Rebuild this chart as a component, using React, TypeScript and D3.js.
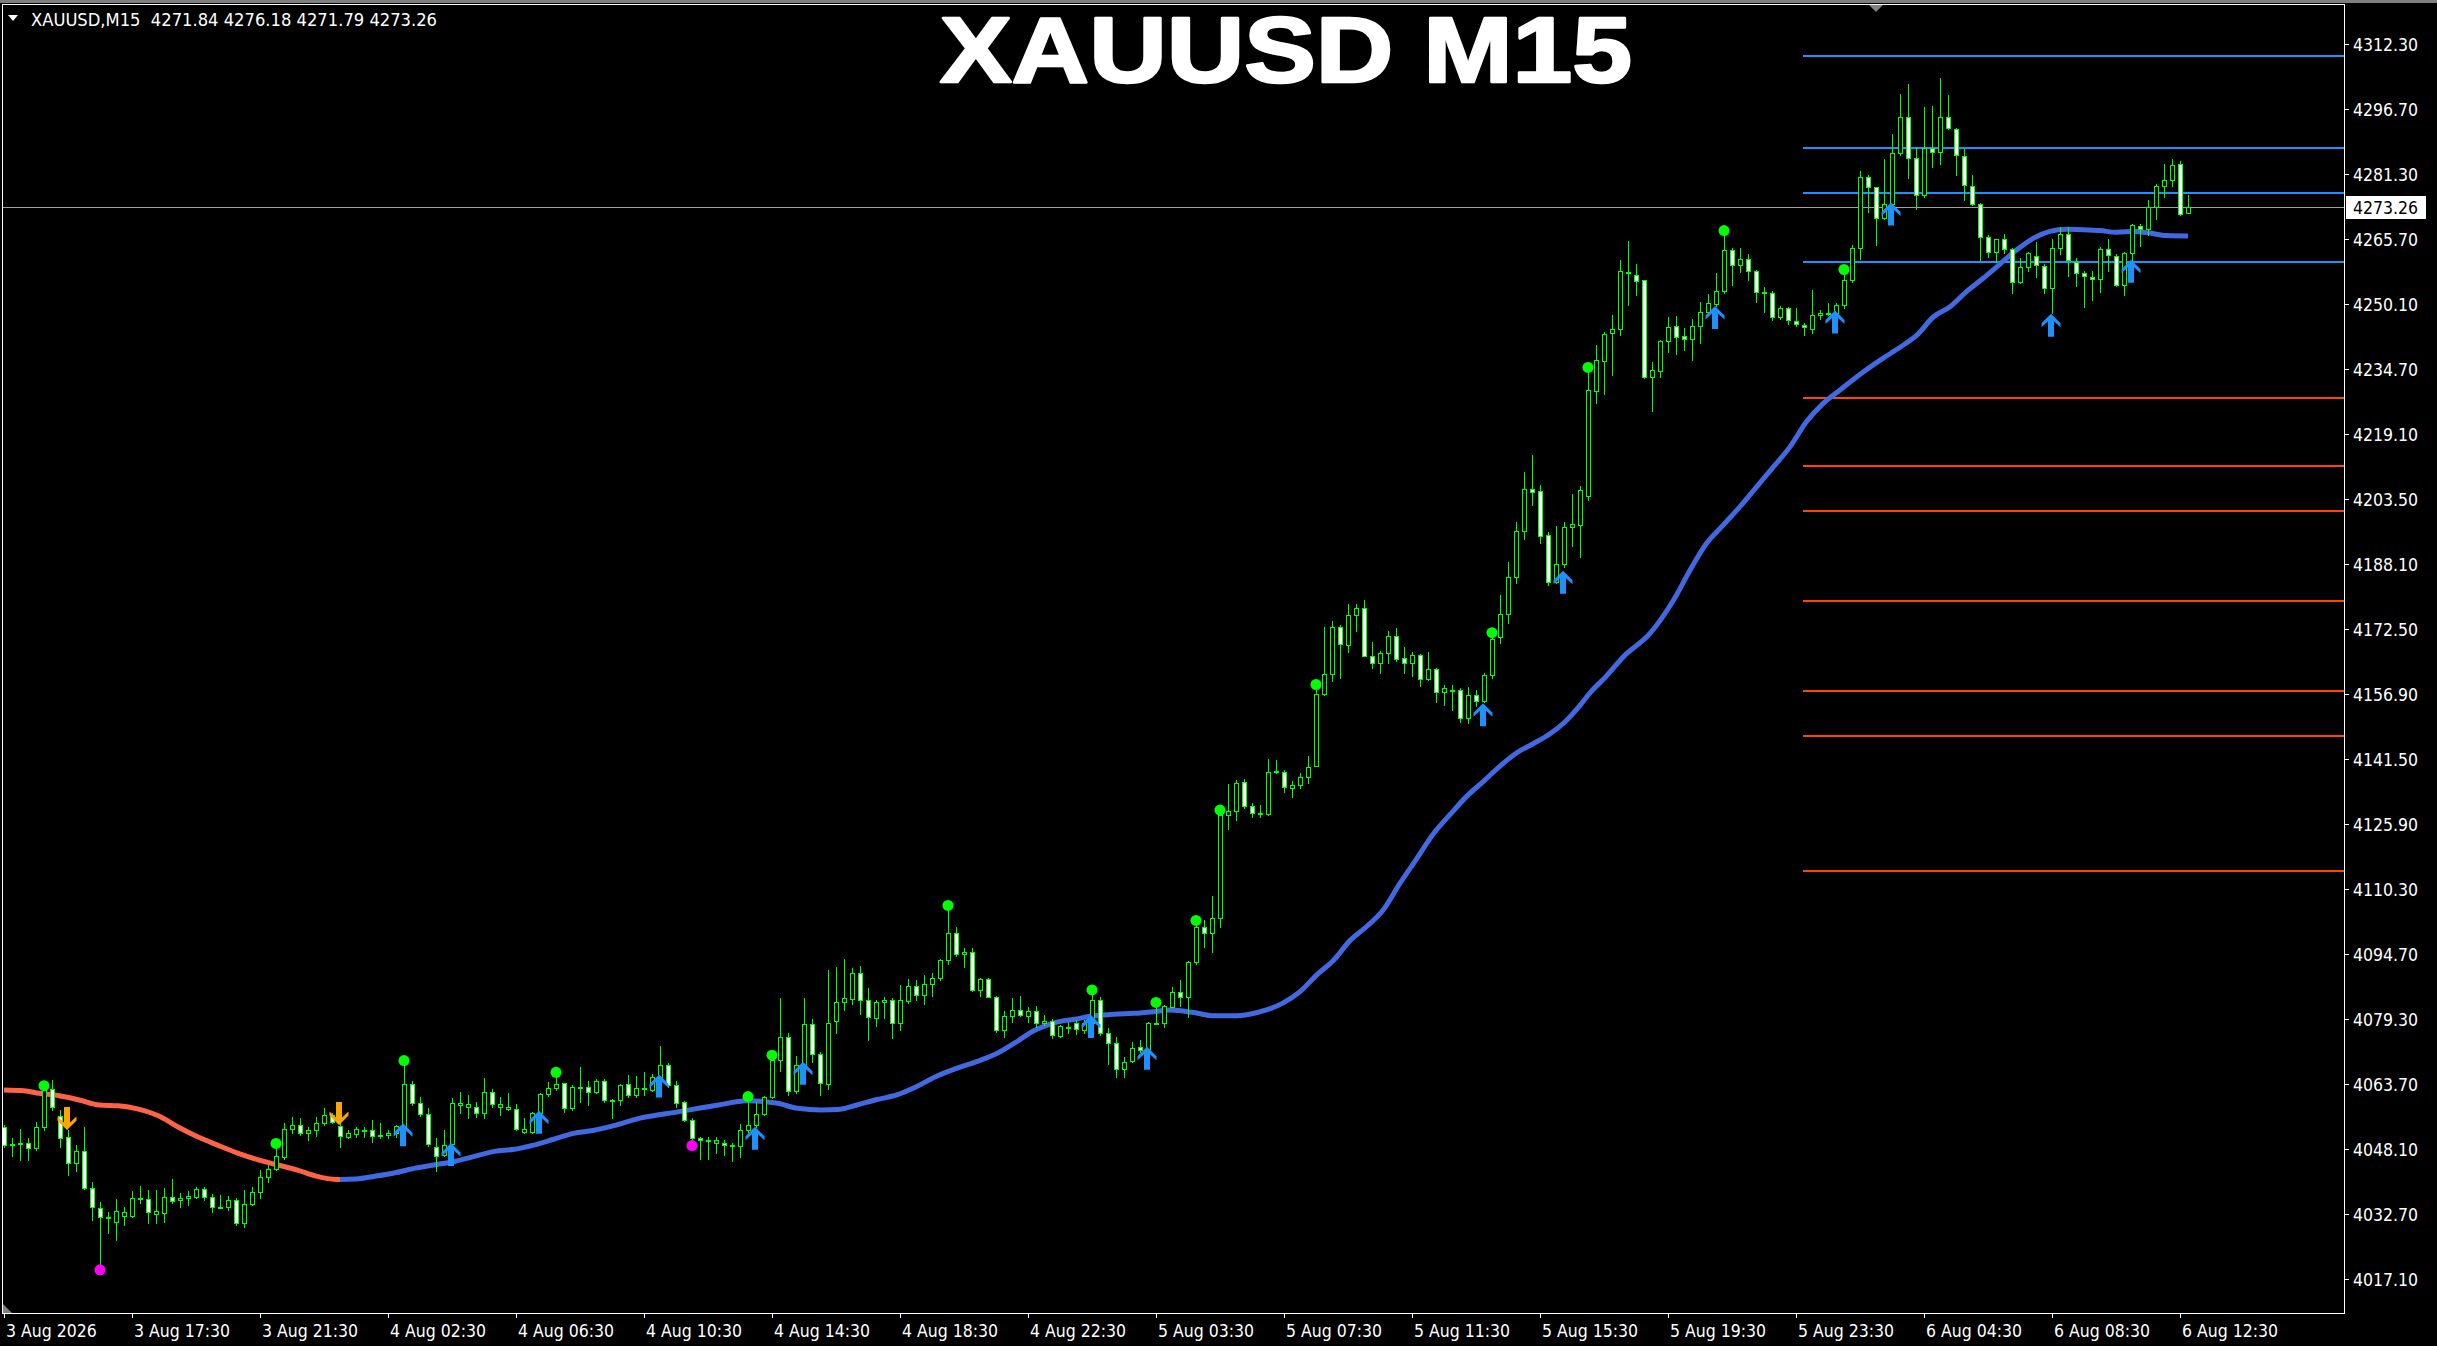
import React, { useEffect } from 'react';
import * as d3 from 'd3';

const WIDTH = 2437;
const HEIGHT = 1346;

// chart frame; price scale sits right of it, time scale below it
const FRAME = { left: 2, top: 4, right: 2344, bottom: 1313 };

const LIME = '#00ff00';
const AXIS_FONT = '"DejaVu Sans Condensed", "DejaVu Sans", sans-serif';

const chartTitle = 'XAUUSD M15';
const headerText = 'XAUUSD,M15  4271.84 4276.18 4271.79 4273.26';

const timeLabels = [
  '3 Aug 2026', '3 Aug 17:30', '3 Aug 21:30', '4 Aug 02:30', '4 Aug 06:30', '4 Aug 10:30',
  '4 Aug 14:30', '4 Aug 18:30', '4 Aug 22:30', '5 Aug 03:30', '5 Aug 07:30', '5 Aug 11:30',
  '5 Aug 15:30', '5 Aug 19:30', '5 Aug 23:30', '6 Aug 04:30', '6 Aug 08:30', '6 Aug 12:30',
];
const BARS_PER_LABEL = 16;

const priceTicks = [
  4312.3, 4296.7, 4281.3, 4265.7, 4250.1, 4234.7, 4219.1, 4203.5, 4188.1, 4172.5,
  4156.9, 4141.5, 4125.9, 4110.3, 4094.7, 4079.3, 4063.7, 4048.1, 4032.7, 4017.1,
];
const lastPrice = 4273.26;

// M15 bars, oldest first: [open, high, low, close]
const candles: [number, number, number, number][] = [
  [4053.5, 4054.0, 4048.7, 4049.1], [4049.3, 4050.7, 4046.4, 4049.3], [4049.3, 4052.9, 4045.6, 4049.7],
  [4049.7, 4050.7, 4045.6, 4048.4], [4048.4, 4054.7, 4048.0, 4053.5], [4053.5, 4063.0, 4052.7, 4062.3],
  [4062.5, 4064.7, 4057.5, 4058.2], [4056.1, 4057.5, 4048.7, 4050.7], [4051.0, 4052.7, 4042.0, 4044.8],
  [4044.8, 4049.1, 4042.8, 4047.6], [4047.8, 4053.4, 4038.6, 4038.8], [4038.8, 4040.4, 4031.2, 4034.2],
  [4034.0, 4035.6, 4020.2, 4031.9], [4032.0, 4033.0, 4028.0, 4032.0], [4030.8, 4036.2, 4026.4, 4033.4],
  [4032.2, 4034.4, 4030.0, 4033.0], [4032.2, 4038.2, 4032.0, 4036.4], [4036.4, 4039.3, 4035.2, 4036.2],
  [4036.2, 4038.4, 4030.4, 4033.2], [4032.6, 4038.4, 4030.6, 4033.4], [4032.8, 4038.8, 4030.8, 4036.6],
  [4036.8, 4040.9, 4035.2, 4035.8], [4036.0, 4037.6, 4034.4, 4036.4], [4036.4, 4038.2, 4034.8, 4037.0],
  [4036.8, 4039.2, 4036.4, 4038.6], [4038.6, 4039.2, 4036.0, 4036.8], [4036.8, 4037.4, 4033.2, 4034.2],
  [4034.2, 4037.2, 4034.0, 4034.2], [4034.4, 4037.0, 4033.6, 4036.0], [4036.0, 4036.4, 4030.0, 4030.4],
  [4030.6, 4038.4, 4029.6, 4035.0], [4035.0, 4039.2, 4034.8, 4038.0], [4037.8, 4043.2, 4036.4, 4041.4],
  [4041.4, 4044.4, 4040.4, 4043.3], [4043.3, 4048.4, 4043.2, 4046.4], [4046.2, 4054.3, 4045.9, 4052.9],
  [4052.9, 4055.9, 4051.9, 4053.9], [4053.9, 4055.5, 4051.5, 4051.9], [4051.9, 4053.4, 4050.3, 4052.7],
  [4052.6, 4055.8, 4051.3, 4054.3], [4054.3, 4057.9, 4053.9, 4056.3], [4056.3, 4056.7, 4054.3, 4054.7],
  [4053.7, 4054.7, 4048.7, 4051.4], [4051.1, 4052.7, 4050.7, 4051.9], [4051.8, 4053.5, 4051.1, 4052.9],
  [4052.7, 4053.5, 4051.1, 4052.7], [4052.6, 4055.1, 4049.9, 4051.4], [4051.6, 4054.5, 4050.7, 4051.6],
  [4051.5, 4052.7, 4050.7, 4052.1], [4051.9, 4053.9, 4051.1, 4053.7], [4053.7, 4068.3, 4053.5, 4063.6],
  [4063.6, 4064.5, 4058.7, 4059.1], [4059.1, 4060.7, 4056.0, 4056.5], [4056.5, 4057.9, 4048.9, 4049.3],
  [4048.7, 4050.7, 4042.8, 4046.6], [4046.8, 4052.7, 4046.4, 4049.1], [4049.4, 4060.3, 4049.1, 4059.1],
  [4058.6, 4061.9, 4056.7, 4059.1], [4058.2, 4061.1, 4055.7, 4058.9], [4058.2, 4059.5, 4055.8, 4056.7],
  [4056.7, 4065.1, 4055.5, 4061.7], [4061.7, 4062.5, 4058.3, 4058.9], [4058.2, 4060.7, 4056.3, 4058.9],
  [4057.7, 4061.5, 4057.5, 4058.3], [4057.8, 4058.9, 4052.7, 4052.9], [4052.3, 4055.5, 4052.1, 4052.9],
  [4052.3, 4057.1, 4052.1, 4056.7], [4056.7, 4061.5, 4056.6, 4061.3], [4061.3, 4064.3, 4060.9, 4062.7],
  [4062.7, 4065.5, 4062.3, 4063.6], [4063.9, 4064.0, 4057.1, 4057.9], [4057.9, 4063.5, 4057.5, 4063.1],
  [4063.1, 4067.7, 4059.3, 4063.1], [4062.9, 4064.5, 4058.7, 4061.9], [4061.9, 4064.8, 4061.5, 4064.4],
  [4064.4, 4064.8, 4059.5, 4059.9], [4059.9, 4060.1, 4055.6, 4060.0], [4060.0, 4063.7, 4058.7, 4063.4],
  [4063.6, 4065.8, 4060.7, 4061.0], [4061.0, 4065.6, 4060.7, 4062.8], [4062.8, 4066.6, 4061.1, 4062.8],
  [4062.3, 4066.1, 4062.0, 4065.5], [4065.5, 4072.8, 4065.3, 4068.2], [4068.2, 4068.8, 4063.1, 4063.5],
  [4063.4, 4064.4, 4058.3, 4059.2], [4059.3, 4059.7, 4054.8, 4055.1], [4055.1, 4055.6, 4050.3, 4050.8],
  [4050.8, 4051.1, 4045.9, 4050.3], [4050.3, 4051.1, 4045.9, 4050.3], [4049.7, 4051.1, 4047.3, 4050.3],
  [4049.7, 4050.3, 4046.7, 4049.1], [4049.1, 4049.5, 4045.4, 4049.1], [4049.0, 4054.1, 4046.3, 4052.6],
  [4052.6, 4059.5, 4052.3, 4053.8], [4053.8, 4059.5, 4053.5, 4056.5], [4056.5, 4060.9, 4056.3, 4060.7],
  [4060.7, 4069.9, 4060.3, 4069.4], [4069.4, 4084.2, 4066.9, 4074.9], [4074.9, 4075.8, 4061.1, 4062.0],
  [4062.0, 4070.4, 4061.5, 4068.2], [4068.2, 4084.2, 4068.0, 4078.0], [4078.0, 4079.2, 4069.0, 4070.8],
  [4071.0, 4071.4, 4061.1, 4063.9], [4063.6, 4091.0, 4062.4, 4078.4], [4078.8, 4091.6, 4076.0, 4083.4],
  [4083.2, 4093.7, 4081.4, 4084.2], [4084.0, 4091.4, 4082.8, 4090.2], [4090.2, 4091.9, 4080.4, 4083.9],
  [4083.9, 4086.6, 4074.2, 4079.8], [4079.6, 4083.9, 4077.6, 4083.4], [4083.4, 4084.6, 4079.4, 4083.9],
  [4083.9, 4084.2, 4074.8, 4078.4], [4078.2, 4087.4, 4076.5, 4083.9], [4083.6, 4088.7, 4083.0, 4087.2],
  [4087.2, 4088.6, 4083.9, 4085.1], [4085.1, 4089.7, 4082.8, 4087.5], [4087.5, 4090.2, 4084.7, 4089.0],
  [4089.0, 4093.7, 4088.6, 4093.3], [4093.3, 4105.3, 4092.5, 4099.9], [4099.9, 4101.3, 4094.2, 4094.7],
  [4094.7, 4096.1, 4091.6, 4095.3], [4095.3, 4096.1, 4086.0, 4086.2], [4086.2, 4089.0, 4084.7, 4088.7],
  [4088.7, 4089.0, 4084.4, 4084.6], [4084.6, 4084.7, 4076.2, 4076.5], [4076.5, 4081.2, 4075.0, 4080.0],
  [4080.0, 4084.2, 4078.6, 4081.5], [4081.5, 4084.7, 4080.0, 4080.1], [4080.0, 4082.2, 4078.6, 4081.2],
  [4081.2, 4082.4, 4077.4, 4078.4], [4078.4, 4080.2, 4077.8, 4078.8], [4078.8, 4079.2, 4074.6, 4075.4],
  [4075.2, 4077.8, 4075.0, 4077.6], [4077.4, 4078.6, 4075.8, 4077.4], [4078.4, 4079.0, 4075.6, 4076.8],
  [4076.6, 4079.0, 4075.8, 4078.2], [4078.2, 4085.0, 4076.6, 4083.9], [4083.9, 4084.6, 4075.4, 4075.8],
  [4076.0, 4077.0, 4068.5, 4073.4], [4073.4, 4075.0, 4065.5, 4067.2], [4067.2, 4070.2, 4065.5, 4069.0],
  [4069.2, 4073.8, 4069.0, 4072.4], [4072.6, 4074.2, 4071.4, 4071.8], [4071.8, 4078.6, 4071.0, 4078.4],
  [4078.4, 4082.2, 4078.0, 4078.4], [4078.2, 4082.6, 4077.4, 4082.4], [4082.2, 4087.0, 4082.0, 4085.6],
  [4085.8, 4088.6, 4082.4, 4084.4], [4084.4, 4093.1, 4079.8, 4092.8], [4092.8, 4101.7, 4092.5, 4101.2],
  [4101.3, 4102.9, 4096.4, 4099.9], [4099.9, 4108.6, 4095.3, 4103.5], [4103.5, 4128.4, 4101.3, 4128.0],
  [4128.0, 4135.4, 4124.6, 4129.0], [4129.0, 4136.4, 4126.8, 4135.7], [4136.0, 4136.5, 4129.6, 4130.2],
  [4130.2, 4130.9, 4127.5, 4128.6], [4128.6, 4130.3, 4127.5, 4128.2], [4128.2, 4141.3, 4128.0, 4138.4],
  [4138.4, 4141.1, 4138.0, 4138.6], [4138.4, 4138.8, 4133.4, 4134.6], [4134.4, 4136.2, 4132.4, 4135.2],
  [4135.2, 4138.0, 4134.5, 4137.2], [4137.2, 4142.1, 4135.6, 4139.6], [4139.8, 4157.9, 4139.8, 4156.9],
  [4156.9, 4173.0, 4156.7, 4161.6], [4161.6, 4174.4, 4160.1, 4173.0], [4173.0, 4173.4, 4160.8, 4168.8],
  [4168.6, 4178.4, 4167.0, 4175.7], [4175.7, 4178.4, 4172.1, 4177.4], [4177.6, 4179.4, 4166.0, 4166.1],
  [4166.1, 4169.4, 4163.1, 4164.3], [4164.3, 4167.1, 4161.9, 4166.7], [4166.7, 4172.1, 4164.3, 4170.8],
  [4170.8, 4172.6, 4164.9, 4165.3], [4165.5, 4168.1, 4162.0, 4164.3], [4164.3, 4167.0, 4161.2, 4166.2],
  [4166.2, 4166.6, 4158.8, 4160.4], [4160.4, 4167.0, 4160.3, 4162.8], [4162.8, 4163.1, 4155.1, 4157.5],
  [4157.5, 4159.1, 4154.3, 4158.3], [4157.9, 4159.1, 4153.0, 4157.9], [4157.9, 4158.3, 4150.3, 4151.1],
  [4151.1, 4158.7, 4150.1, 4156.7], [4156.7, 4157.9, 4154.1, 4155.3], [4155.3, 4161.9, 4155.1, 4161.5],
  [4161.5, 4170.8, 4160.7, 4170.0], [4170.6, 4180.6, 4169.2, 4176.0], [4176.0, 4188.5, 4174.0, 4184.8],
  [4184.8, 4198.0, 4183.5, 4196.0], [4196.0, 4210.0, 4194.0, 4206.0], [4206.0, 4214.0, 4202.0, 4205.2],
  [4205.4, 4207.0, 4193.0, 4194.7], [4195.0, 4195.7, 4183.0, 4183.8], [4183.8, 4197.1, 4183.4, 4188.0],
  [4188.0, 4198.1, 4187.4, 4196.8], [4196.9, 4204.7, 4192.3, 4197.5], [4197.3, 4206.6, 4189.6, 4205.8],
  [4204.3, 4234.0, 4203.4, 4229.6], [4229.4, 4240.3, 4226.6, 4236.8], [4236.6, 4243.5, 4228.6, 4243.1],
  [4243.3, 4247.5, 4233.2, 4244.1], [4244.1, 4260.7, 4242.7, 4258.0], [4257.9, 4265.2, 4249.9, 4257.6],
  [4257.2, 4259.7, 4252.3, 4255.7], [4255.9, 4256.0, 4232.4, 4232.8], [4232.8, 4236.2, 4224.6, 4234.4],
  [4234.2, 4241.5, 4232.6, 4241.3], [4241.3, 4247.1, 4238.7, 4244.6], [4244.9, 4247.3, 4238.2, 4242.2],
  [4242.5, 4244.3, 4239.1, 4241.9], [4241.9, 4246.5, 4236.8, 4244.9], [4244.9, 4250.7, 4240.9, 4248.2],
  [4248.2, 4252.5, 4247.5, 4250.3], [4250.1, 4257.5, 4249.7, 4253.3], [4253.3, 4267.0, 4252.9, 4263.1],
  [4263.1, 4263.5, 4254.7, 4259.5], [4259.5, 4263.5, 4257.9, 4260.8], [4260.8, 4262.1, 4255.9, 4258.1],
  [4258.1, 4258.3, 4250.7, 4253.1], [4253.1, 4254.1, 4248.3, 4253.1], [4252.9, 4253.3, 4246.3, 4247.1],
  [4247.0, 4249.7, 4246.5, 4249.1], [4249.1, 4249.5, 4245.3, 4246.3], [4246.2, 4249.3, 4245.0, 4245.3],
  [4245.1, 4245.5, 4242.7, 4244.6], [4244.1, 4253.5, 4243.3, 4247.5], [4247.5, 4248.7, 4246.5, 4247.9],
  [4247.8, 4250.3, 4247.5, 4248.1], [4248.1, 4250.3, 4247.1, 4249.9], [4249.9, 4257.1, 4249.1, 4256.0],
  [4256.0, 4264.3, 4255.5, 4263.5], [4263.5, 4281.9, 4260.8, 4280.6], [4280.6, 4281.0, 4272.2, 4278.0],
  [4278.0, 4278.2, 4264.3, 4270.6], [4270.6, 4284.8, 4270.4, 4274.0], [4274.0, 4290.9, 4273.4, 4286.3],
  [4286.3, 4300.4, 4285.8, 4294.8], [4294.8, 4302.7, 4280.2, 4285.0], [4285.0, 4287.6, 4272.8, 4276.2],
  [4276.2, 4297.2, 4275.8, 4287.5], [4287.5, 4297.5, 4283.0, 4286.4], [4286.4, 4304.1, 4283.6, 4294.9],
  [4294.9, 4300.1, 4292.1, 4292.2], [4292.1, 4292.3, 4281.0, 4285.8], [4285.6, 4287.1, 4274.9, 4278.7],
  [4278.4, 4281.0, 4273.8, 4274.1], [4274.0, 4274.2, 4260.7, 4266.1], [4266.1, 4266.7, 4261.5, 4262.7],
  [4262.7, 4265.8, 4260.3, 4265.6], [4265.6, 4267.0, 4262.3, 4263.3], [4263.2, 4263.5, 4252.9, 4255.3],
  [4255.3, 4261.1, 4255.2, 4259.1], [4259.1, 4262.7, 4258.1, 4262.3], [4261.7, 4265.0, 4256.5, 4259.5],
  [4259.3, 4259.7, 4252.9, 4253.9], [4253.9, 4265.8, 4247.9, 4263.5], [4263.5, 4268.5, 4262.1, 4267.0],
  [4267.0, 4268.5, 4256.8, 4260.7], [4260.3, 4261.1, 4254.5, 4257.5], [4257.5, 4258.1, 4249.4, 4256.8],
  [4256.7, 4258.1, 4251.0, 4256.1], [4256.1, 4263.7, 4253.1, 4263.2], [4263.2, 4265.6, 4258.1, 4261.9],
  [4261.7, 4262.1, 4254.5, 4254.7], [4254.7, 4262.7, 4252.3, 4262.4], [4262.4, 4269.2, 4260.3, 4269.0],
  [4268.8, 4269.3, 4263.9, 4268.0], [4268.0, 4275.0, 4266.6, 4273.4], [4273.4, 4278.8, 4270.4, 4278.4],
  [4278.4, 4283.6, 4275.8, 4279.8], [4279.8, 4284.8, 4278.4, 4283.4], [4283.5, 4284.4, 4271.5, 4271.7],
  [4271.84, 4276.18, 4271.79, 4273.26],
];

// moving average: [bar, value]
const maPoints: [number, number][] = [
  [0, 4062.3], [2.5, 4062.1], [4.4, 4061.5], [6.9, 4060.9], [9.4, 4059.9], [11.9, 4058.7],
  [14.3, 4058.5], [16.8, 4057.7], [19.3, 4056.1], [21.7, 4053.5], [24.2, 4051.1], [26.7, 4049.1],
  [29.2, 4047.2], [31.6, 4045.7], [34.1, 4044.4], [36.6, 4043.2], [39, 4041.7], [41.5, 4040.9],
  [44, 4041.0], [46.5, 4041.7], [48.9, 4042.5], [51.4, 4043.6], [53.9, 4044.4], [56.3, 4045.2],
  [58.8, 4046.4], [61.3, 4047.6], [63.8, 4048.1], [66.2, 4049.1], [68.7, 4050.5], [71.2, 4051.9],
  [73.6, 4052.6], [76.1, 4053.7], [79.4, 4055.5], [84.4, 4057.1], [89.3, 4058.7], [92.8, 4059.7],
  [96.7, 4059.1], [99.2, 4057.9], [102.2, 4057.5], [104.2, 4057.6], [106.6, 4058.7], [109.1, 4060.0],
  [111.6, 4061.1], [114.1, 4063.1], [116.5, 4065.5], [119, 4067.4], [121.5, 4069.0], [123.9, 4070.8],
  [126.4, 4073.6], [128.9, 4076.6], [131.4, 4078.4], [133.8, 4079.2], [136.3, 4080.0], [138.8, 4080.4],
  [141.2, 4080.6], [143.7, 4081.0], [145.7, 4081.4], [148.7, 4080.8], [151.2, 4080.0], [153.7, 4080.0],
  [155.7, 4080.4], [157.8, 4081.4], [159.9, 4083.1], [162, 4085.8], [164.1, 4089.8], [166.2, 4093.3],
  [168.3, 4098.1], [170.3, 4101.3], [172.4, 4105.3], [174.5, 4111.7], [176.6, 4117.6], [178.7, 4123.6],
  [180.8, 4128.2], [182.8, 4132.4], [184.9, 4136.0], [187, 4139.7], [189.1, 4142.9], [191.2, 4145.1],
  [193.3, 4147.5], [195.3, 4150.6], [197, 4154.2], [198.3, 4157.3], [200.3, 4161.2], [202.4, 4165.8],
  [205.75, 4171.4], [208.7, 4179.4], [210.75, 4186.5], [212.8, 4192.9], [214.9, 4197.3], [217, 4201.7],
  [219.1, 4206.5], [221.2, 4211.3], [223.25, 4216.0], [225.3, 4222.0], [227.4, 4226.4], [229.5, 4229.6],
  [232.2, 4233.6], [234.9, 4237.2], [237, 4239.8], [239.1, 4242.7], [241.2, 4247.1], [243.25, 4249.5],
  [245.3, 4253.1], [247.4, 4256.3], [249.5, 4259.7], [251.6, 4263.1], [253.7, 4265.9], [255.75, 4267.5],
  [257.8, 4268.0], [259.9, 4267.9], [262, 4267.7], [264.1, 4267.3], [266.2, 4267.5], [268.25, 4267.1],
  [270.3, 4266.5], [273, 4266.4],
];
const MA_TURN_BAR = 42; // red (falling) before, blue (rising) after

const upperLevels = [4309.5, 4287.5, 4276.8, 4260.3];
const lowerLevels = [4227.8, 4211.5, 4200.7, 4179.2, 4157.7, 4146.9, 4114.6];
const LEVELS_FROM_BAR = 225;

// signals: [bar, price]
const buyArrows: [number, number][] = [
  [50, 4054.3], [56, 4049.6], [67, 4057.3], [82, 4066.0], [94, 4053.5], [100, 4069.0],
  [136, 4080.2], [143, 4072.6], [185, 4154.7], [195, 4186.4], [214, 4249.7], [229, 4248.6],
  [236, 4274.4], [256, 4247.8], [266, 4260.7],
];
const sellArrows: [number, number][] = [[8, 4052.7], [42, 4053.9]];
const highDots: [number, number][] = [
  [5, 4063.3], [34, 4049.5], [50, 4069.3], [69, 4066.5], [93, 4060.7], [96, 4070.6],
  [118, 4106.4], [136, 4086.2], [144, 4083.2], [149, 4102.8], [152, 4129.2], [164, 4159.2],
  [186, 4171.6], [198, 4235.0], [215, 4267.7], [230, 4258.4],
];
const lowDots: [number, number][] = [[12, 4019.3], [86, 4049.0]];

const ARROW_PATH = 'M0,0 L9.5,9.5 L9.5,13.5 L3,7.5 L3,23 L-3,23 L-3,7.5 L-9.5,13.5 L-9.5,9.5 Z';

const App: React.FC = () => {
  useEffect(() => {
    document.body.style.margin = '0';
    document.body.style.background = '#000';
  }, []);

  const x = d3.scaleLinear().domain([0, 1]).range([4, 12]);
  const y = d3.scaleLinear().domain([4017.1, 4312.3]).range([1279, 44]);

  const maLine = d3
    .line<[number, number]>()
    .x((d) => x(d[0]))
    .y((d) => y(d[1]))
    .curve(d3.curveMonotoneX);
  const maPath = maLine(maPoints) || '';
  const turnX = x(MA_TURN_BAR);

  const lastY = Math.round(y(lastPrice));

  return (
    <svg
      width={WIDTH}
      height={HEIGHT}
      style={{ position: 'absolute', left: 0, top: 0, background: '#000', display: 'block' }}
    >
      <defs>
        <clipPath id="plot">
          <rect x={FRAME.left} y={FRAME.top} width={FRAME.right - FRAME.left} height={FRAME.bottom - FRAME.top} />
        </clipPath>
        <clipPath id="ma-red">
          <rect x={0} y={0} width={turnX} height={HEIGHT} />
        </clipPath>
        <clipPath id="ma-blue">
          <rect x={turnX} y={0} width={FRAME.right - turnX} height={HEIGHT} />
        </clipPath>
      </defs>

      <rect x={0} y={0} width={WIDTH} height={HEIGHT} fill="#000" />
      <rect x={0} y={0} width={WIDTH} height={3} fill="#7f7f7f" />

      <g clipPath="url(#plot)">
        {/* support / resistance levels */}
        {upperLevels.map((v) => (
          <line key={'u' + v} x1={x(LEVELS_FROM_BAR) - 1} x2={FRAME.right} y1={Math.round(y(v))} y2={Math.round(y(v))}
            stroke="#1e90ff" strokeWidth={2} />
        ))}
        {lowerLevels.map((v) => (
          <line key={'l' + v} x1={x(LEVELS_FROM_BAR) - 1} x2={FRAME.right} y1={Math.round(y(v))} y2={Math.round(y(v))}
            stroke="#ff4500" strokeWidth={2} />
        ))}

        {/* last price line */}
        <line x1={FRAME.left} x2={FRAME.right} y1={lastY + 0.5} y2={lastY + 0.5} stroke="#a0a0a0" strokeWidth={1} />

        {/* moving average */}
        <path d={maPath} fill="none" stroke="#ff6347" strokeWidth={5} clipPath="url(#ma-red)" />
        <path d={maPath} fill="none" stroke="#4169e1" strokeWidth={5} clipPath="url(#ma-blue)" />

        {/* candles */}
        <g shapeRendering="crispEdges">
          {candles.map(([o, h, l, c], i) => {
            const cx = Math.round(x(i));
            const top = Math.round(y(Math.max(o, c)));
            const bot = Math.round(y(Math.min(o, c)));
            const bull = c >= o;
            return (
              <g key={i}>
                <line x1={cx + 0.5} x2={cx + 0.5} y1={Math.round(y(h))} y2={Math.round(y(l)) + 1} stroke={LIME} />
                <rect x={cx - 1.5} y={top + 0.5} width={4} height={Math.max(bot - top, 1)}
                  fill={bull ? '#000' : '#fff'} stroke={LIME} />
              </g>
            );
          })}
        </g>

        {/* signals */}
        {highDots.map(([b, v]) => (
          <circle key={'hd' + b} cx={x(b)} cy={y(v)} r={5.5} fill={LIME} />
        ))}
        {lowDots.map(([b, v]) => (
          <circle key={'ld' + b} cx={x(b)} cy={y(v)} r={5.5} fill="#ff00ff" />
        ))}
        {buyArrows.map(([b, v]) => (
          <path key={'ba' + b} d={ARROW_PATH} transform={`translate(${x(b) - 1},${y(v)})`} fill="#1e90ff" />
        ))}
        {sellArrows.map(([b, v]) => (
          <path key={'sa' + b} d={ARROW_PATH} transform={`translate(${x(b) - 1},${y(v)}) scale(1,-1)`} fill="#ffa500" />
        ))}
      </g>

      {/* frame */}
      <rect x={FRAME.left + 0.5} y={FRAME.top + 0.5} width={FRAME.right - FRAME.left} height={FRAME.bottom - FRAME.top}
        fill="none" stroke="#ffffff" strokeWidth={1} shapeRendering="crispEdges" />
      <polygon points={`1869,${FRAME.top + 1} 1883,${FRAME.top + 1} 1876,${FRAME.top + 8}`} fill="#808080" />
      <polygon points={`${FRAME.left + 1},1304 ${FRAME.left + 1},${FRAME.bottom} ${FRAME.left + 10},${FRAME.bottom}`} fill="#808080" />

      {/* header */}
      <polygon points="8,15 18,15 13,21" fill="#ffffff" />
      <text x={31} y={26} fill="#ffffff" fontFamily={AXIS_FONT} fontSize={18.2} style={{ whiteSpace: 'pre', fontStretch: 'condensed' }}>
        {headerText}
      </text>
      <text x={1286} y={82} fill="#ffffff" stroke="#ffffff" strokeWidth={2.5} strokeLinejoin="round"
        textAnchor="middle" fontFamily='"Liberation Sans", Arial, sans-serif' fontWeight="bold" fontSize={92}
        textLength={692} lengthAdjust="spacingAndGlyphs">
        {chartTitle}
      </text>

      {/* price scale */}
      <g fontFamily={AXIS_FONT} fontSize={17.5} fill="#ffffff" style={{ fontStretch: 'condensed' }}>
        {priceTicks.map((v) => {
          const ty = Math.round(y(v));
          return (
            <g key={v}>
              <line x1={FRAME.right} x2={FRAME.right + 5} y1={ty + 0.5} y2={ty + 0.5} stroke="#ffffff" />
              <text x={2353} y={ty + 6.5}>{v.toFixed(2)}</text>
            </g>
          );
        })}
        <rect x={FRAME.right + 2} y={lastY - 11} width={80} height={23} fill="#ffffff" />
        <text x={2353} y={lastY + 6.5} fill="#000000">{lastPrice.toFixed(2)}</text>
      </g>

      {/* time scale */}
      <g fontFamily={AXIS_FONT} fontSize={17.5} fill="#ffffff" style={{ fontStretch: 'condensed' }}>
        {timeLabels.map((t, i) => {
          const tx = Math.round(x(i * BARS_PER_LABEL));
          return (
            <g key={t}>
              <line x1={tx + 0.5} x2={tx + 0.5} y1={FRAME.bottom} y2={FRAME.bottom + 5} stroke="#ffffff" />
              <text x={tx + 2} y={1337}>{t}</text>
            </g>
          );
        })}
      </g>
    </svg>
  );
};

export default App;
